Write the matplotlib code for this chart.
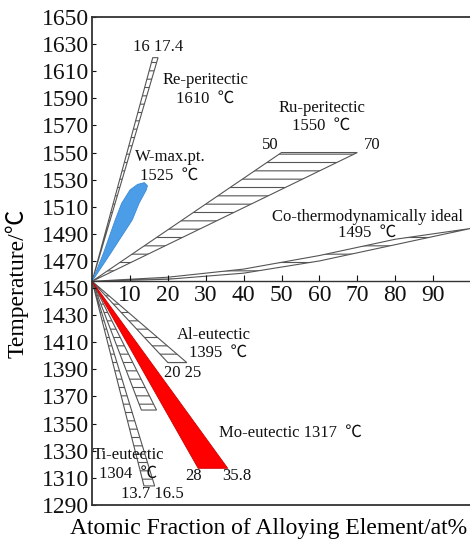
import matplotlib.pyplot as plt
import numpy as np

plt.rcParams['font.family'] = ['Liberation Serif', 'Noto Sans CJK SC']
plt.rcParams['hatch.color'] = '#555555'
plt.rcParams['hatch.linewidth'] = 0.8

# every region starts at the melting point of Ni
T_NI = 1455

# hatched wedges: end temperature and x at the two far corners
wedge_names = ['Re', 'Ru', 'Al', 'other', 'Ti']
wedge_temp = [1620, 1550, 1395, 1360, 1304]
wedge_x_lo = [16, 50, 20, 13, 13.7]
wedge_x_hi = [17.4, 70, 25, 17, 16.5]

# Mo eutectic, red filled wedge
mo_temp = 1317
mo_x = [28, 35.8]

# W maximum point, blue leaf outline
w_x = [0, 3.0, 6.1, 7.8, 10.0, 12.0, 13.8, 14.6, 14.3, 12.4, 10.6, 4.9, 0]
w_t = [1455, 1475.7, 1500.3, 1512.6, 1522.4, 1526.5, 1527.8, 1525.5,
       1522.4, 1512.6, 1500.3, 1475.7, 1455]

# Co ideal lens (upper and lower curves)
co_up_x = [0, 20, 40, 60, 80, 100]
co_up_t = [1455, 1458, 1464, 1474, 1486, 1494]
co_lo_x = [0, 20, 40, 60, 80, 90, 100]
co_lo_t = [1455, 1456.5, 1461, 1470, 1482, 1488, 1494]

fig = plt.figure(figsize=(4.7, 5.4), dpi=100)
ax = fig.add_axes([0.196, 0.065, 0.806, 0.9035])
ax.set_xlim(0, 100)
ax.set_ylim(1290, 1650)

edge = '#555555'
for t, xl, xh in zip(wedge_temp, wedge_x_lo, wedge_x_hi):
    ax.fill([0, xl, xh], [T_NI, t, t], facecolor='white', edgecolor=edge,
            hatch='--', linewidth=0.8)

ax.fill(np.r_[co_up_x, co_lo_x[::-1]], np.r_[co_up_t, co_lo_t[::-1]],
        facecolor='white', edgecolor=edge, hatch='--', linewidth=0.8)

ax.fill([0, mo_x[0], mo_x[1]], [T_NI, mo_temp, mo_temp],
        facecolor='#ff0000', edgecolor='#cc0000', linewidth=0.6)
ax.fill(w_x, w_t, facecolor='#4a9de6', edgecolor='#3c8ad6', linewidth=0.6)

fs = 12
txt = [
    (17.3, 1628, '16 17.4'),
    (30, 1603.5, 'Re-peritectic'),
    (29.8, 1589.5, '1610  ℃'),
    (60.7, 1583, 'Ru-peritectic'),
    (60.5, 1569.6, '1550  ℃'),
    (47.1, 1555.6, '50'),
    (74, 1555.6, '70'),
    (20.6, 1546.8, 'W-max.pt.'),
    (20.2, 1532.7, '1525  ℃'),
    (72.8, 1502.7, 'Co-thermodynamically ideal'),
    (72.7, 1490.7, '1495  ℃'),
    (32.2, 1415.5, 'Al-eutectic'),
    (33.2, 1402.4, '1395  ℃'),
    (23.9, 1387.5, '20 25'),
    (52.4, 1343.4, 'Mo-eutectic 1317  ℃'),
    (26.7, 1311, '28'),
    (38.1, 1311, '35.8'),
    (9.6, 1326.5, 'Ti-eutectic'),
    (9.6, 1312.8, '1304  ℃'),
    (15.8, 1298, '13.7 16.5'),
]
for x, y, s in txt:
    ax.text(x, y, s, fontsize=fs, ha='center', va='center', color='#111111')

# x axis sits at the Ni melting point, frame closed by a line at the bottom
for side in ['left', 'top', 'bottom']:
    ax.spines[side].set_color('#333333')
    ax.spines[side].set_linewidth(1.3)
ax.spines['right'].set_visible(False)
ax.spines['bottom'].set_position(('data', T_NI))
ax.spines['bottom'].set_linewidth(1.0)
ax.axhline(1290, color='#333333', linewidth=1.3, clip_on=False)

ax.set_xticks(range(10, 100, 10))
ax.set_yticks(range(1290, 1651, 20))
ax.tick_params(axis='both', direction='in', labelsize=17, colors='#111111')
ax.tick_params(axis='x', length=4, pad=3)
ax.tick_params(axis='y', length=3, pad=2)

fig.text(0.572, 0.022, 'Atomic Fraction of Alloying Element/at%',
         fontsize=17, ha='center', va='center')
fig.text(0.036, 0.475, 'Temperature/℃', fontsize=17, rotation=90,
         ha='center', va='center')

fig.savefig('out.png', dpi=100)
